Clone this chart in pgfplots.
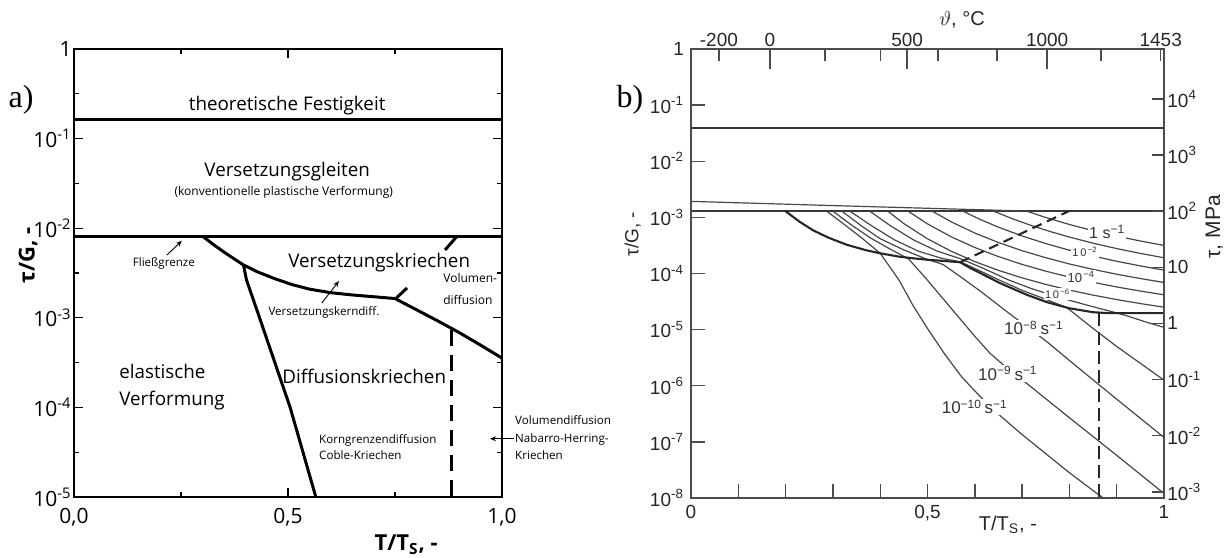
\documentclass[border=0pt]{standalone}
\usepackage{fontspec}
\setmainfont{Open Sans}
\newfontfamily\hv{Liberation Sans}
\newfontfamily\sr{Liberation Serif}
\usepackage{pgfplots}
\pgfplotsset{compat=1.18}
\usetikzlibrary{arrows.meta}
\newcommand{\fs}[1]{\fontsize{#1}{#1}\selectfont}
\tikzset{
  thk/.style={line width=1.5pt, black},
  bl/.style={line width=0.6pt, black!72},
  bthk/.style={line width=1.05pt, black!85},
  bh/.style={line width=0.95pt, black!78},
  lbl/.style={fill=white, inner sep=0.6pt, text=black!80},
}
\begin{document}
\begin{tikzpicture}
\path[use as bounding box] (0,0) rectangle (613pt,278.5pt);
\node[font=\sr\fs{16}] at (10.5pt,228.5pt) {a)};
\node[font=\sr\fs{16}] at (315pt,228.5pt) {b)};
% ---------------- panel a ----------------
\begin{axis}[
  at={(37pt,30pt)}, anchor=south west,
  scale only axis, width=214pt, height=224pt,
  xmin=0, xmax=1, ymin=-5, ymax=0,
  axis line style={line width=0.75pt},
  xtick={0,0.5,1}, xticklabels={{0,0},{0,5},{1,0}},
  minor xtick={0.25,0.75},
  ytick={-5,-4,-3,-2,-1,0},
  yticklabels={10\textsuperscript{-5},10\textsuperscript{-4},10\textsuperscript{-3},10\textsuperscript{-2},10\textsuperscript{-1},1},
  minor ytick={-4.5,-3.5,-2.5,-1.5,-0.5},
  tick align=inside,
  major tick length=4.5pt, minor tick length=2.5pt,
  tick style={black, line width=0.6pt},
  ticklabel style={font=\fs{10.5}},
  yticklabel style={inner sep=1pt},
  xticklabel style={yshift=-2pt},
  xlabel={T/T\textsubscript{S}, -},
  xlabel style={at={(axis description cs:0.776,-0.107)}, anchor=center, font=\bfseries\fs{11}},
  ylabel={τ/G, -},
  ylabel style={at={(axis description cs:-0.1075,0.54)}, anchor=center, font=\bfseries\fs{11}},
  clip=false,
]
\addplot[thk] coordinates {(0,-0.79) (1,-0.79)};
\addplot[thk] coordinates {(0,-2.095) (1,-2.095)};
\addplot[thk] coordinates {(0.302,-2.095) (0.325,-2.18) (0.35,-2.265) (0.375,-2.345) (0.396,-2.41) (0.43,-2.49) (0.47,-2.565) (0.51,-2.63) (0.55,-2.68) (0.60,-2.72) (0.65,-2.745) (0.70,-2.765) (0.75,-2.785) (0.80,-2.91) (0.85,-3.035) (0.90,-3.165) (0.95,-3.305) (1.0,-3.45)};
\addplot[thk] coordinates {(0.396,-2.41) (0.403,-2.578) (0.43,-2.95) (0.46,-3.37) (0.49,-3.79) (0.505,-4.0) (0.535,-4.5) (0.565,-5.0)};
\addplot[thk, dash pattern=on 8pt off 4.5pt] coordinates {(0.883,-3.14) (0.883,-5)};
\addplot[thk] coordinates {(0.752,-2.785) (0.778,-2.667)};
\addplot[thk] coordinates {(0.867,-2.243) (0.893,-2.10)};
\node[font=\fs{9.4}] at (axis cs:0.498,-0.636) {theoretische Festigkeit};
\node[font=\fs{9.4}] at (axis cs:0.498,-1.373) {Versetzungsgleiten};
\node[font=\fs{6}] at (axis cs:0.49,-1.596) {(konventionelle plastische Verformung)};
\node[font=\fs{5.8}] at (axis cs:0.21,-2.388) {Fließgrenze};
\node[font=\fs{9.4}] at (axis cs:0.713,-2.388) {Versetzungskriechen};
\node[font=\fontsize{6}{11}\selectfont, align=left, anchor=west, inner sep=0pt] at (axis cs:0.862,-2.68) {Volumen-\\diffusion};
\node[font=\fs{5.8}] at (axis cs:0.584,-2.935) {Versetzungskerndiff.};
\node[font=\fontsize{9.4}{13.5}\selectfont, align=left, anchor=west, inner sep=0pt] at (axis cs:0.105,-3.77) {elastische\\Verformung};
\node[font=\fs{9.4}] at (axis cs:0.678,-3.65) {Diffusionskriechen};
\node[font=\fontsize{5.8}{8}\selectfont, align=left, anchor=west, inner sep=0pt] at (axis cs:0.572,-4.44) {Korngrenzendiffusion\\Coble-Kriechen};
\node[font=\fontsize{5.8}{8.75}\selectfont, align=left, anchor=west, inner sep=0pt] at (axis cs:1.03,-4.34) {Volumendiffusion\\Nabarro-Herring-\\Kriechen};
\draw[-{Stealth[length=3pt,width=2.5pt]}, line width=0.45pt] (axis cs:0.217,-2.30) -- (axis cs:0.252,-2.14);
\draw[-{Stealth[length=3pt,width=2.5pt]}, line width=0.45pt] (axis cs:0.579,-2.835) -- (axis cs:0.619,-2.59);
\draw[-{Stealth[length=3pt,width=2.5pt]}, line width=0.45pt] (axis cs:1.027,-4.35) -- (axis cs:0.972,-4.35);
\end{axis}
% ---------------- panel b : main ----------------
\begin{axis}[
  at={(345.5pt,29.5pt)}, anchor=south west,
  scale only axis, width=236.5pt, height=224.5pt,
  xmin=0, xmax=1, ymin=-8, ymax=0,
  axis line style={draw=black!70, line width=0.7pt},
  xtick={0,0.1,0.2,0.3,0.4,0.5,0.6,0.7,0.8,0.9,1},
  xticklabels={0,,,,,{0,5},,,,,1},
  ytick={-8,-7,-6,-5,-4,-3,-2,-1,0},
  yticklabels={10\textsuperscript{-8},10\textsuperscript{-7},10\textsuperscript{-6},10\textsuperscript{-5},10\textsuperscript{-4},10\textsuperscript{-3},10\textsuperscript{-2},10\textsuperscript{-1},1},
  xtick pos=left, ytick pos=left,
  tick align=inside, major tick length=7pt,
  tick style={black!70, line width=0.7pt},
  ticklabel style={font=\hv\fs{9.5}, text=black!85},
  xlabel={T/T\textsubscript{S}, -},
  xlabel style={at={(axis description cs:0.670,-0.060)}, anchor=center, font=\hv\fs{10}, text=black!85},
  ylabel={τ/G, -},
  ylabel style={at={(axis description cs:-0.123,0.588)}, anchor=center, font=\hv\fs{9.5}, text=black!85},
]
\addplot[bh] coordinates {(0,-1.40) (1,-1.40)};
\addplot[bh] coordinates {(0,-2.885) (1,-2.885)};
\addplot[bl] coordinates {(0,-2.715) (0.3,-2.79) (0.55,-2.85) (0.70,-2.885)};
% power-law contours
\addplot[bl] coordinates {(0.71,-2.89) (0.75,-3.002) (0.80,-3.127) (0.85,-3.237) (0.90,-3.334) (0.95,-3.421) (1.0,-3.50)};
\addplot[bl] coordinates {(0.64,-2.89) (0.68,-3.026) (0.72,-3.146) (0.76,-3.254) (0.80,-3.351) (0.85,-3.460) (0.90,-3.556) (0.95,-3.642) (1.0,-3.720)};
\addplot[bl] coordinates {(0.575,-2.89) (0.61,-3.032) (0.65,-3.175) (0.70,-3.331) (0.75,-3.467) (0.80,-3.585) (0.85,-3.689) (0.90,-3.782) (0.95,-3.865) (1.0,-3.94)};
\addplot[bl] coordinates {(0.51,-2.89) (0.55,-3.079) (0.60,-3.279) (0.65,-3.448) (0.70,-3.594) (0.75,-3.719) (0.80,-3.830) (0.85,-3.927) (0.90,-4.013) (0.95,-4.090) (1.0,-4.16)};
\addplot[bl] coordinates {(0.459,-2.89) (0.50,-3.116) (0.55,-3.346) (0.60,-3.537) (0.65,-3.699) (0.70,-3.838) (0.75,-3.959) (0.80,-4.064) (0.85,-4.157) (0.90,-4.240) (0.95,-4.313) (1.0,-4.38)};
\addplot[bl] coordinates {(0.416,-2.89) (0.45,-3.111) (0.50,-3.382) (0.55,-3.603) (0.60,-3.788) (0.65,-3.944) (0.70,-4.078) (0.75,-4.194) (0.80,-4.296) (0.85,-4.385) (0.90,-4.465) (0.95,-4.536) (1.0,-4.60)};
\addplot[bl] coordinates {(0.378,-2.89) (0.42,-3.14) (0.47,-3.40) (0.52,-3.60) (0.569,-3.735) (0.62,-3.915) (0.67,-4.11) (0.72,-4.27) (0.78,-4.43) (0.84,-4.57) (0.89,-4.68) (0.92,-4.75) (0.96,-4.86) (1.0,-4.96)};
\addplot[bl] coordinates {(0.336,-2.89) (0.38,-3.14) (0.43,-3.40) (0.48,-3.60) (0.53,-3.73) (0.569,-3.79) (0.61,-3.95) (0.65,-4.11) (0.70,-4.30) (0.75,-4.46) (0.795,-4.61) (0.85,-4.98) (0.90,-5.30) (0.95,-5.60) (1.0,-5.90)};
\addplot[bl] coordinates {(0.319,-2.89) (0.36,-3.15) (0.40,-3.38) (0.45,-3.58) (0.50,-3.75) (0.533,-3.84) (0.57,-4.06) (0.611,-4.31) (0.674,-4.72) (0.72,-5.01) (0.753,-5.22) (0.80,-5.55) (0.90,-6.24) (1.0,-6.92)};
\addplot[bl] coordinates {(0.300,-2.89) (0.34,-3.14) (0.38,-3.37) (0.42,-3.56) (0.46,-3.74) (0.50,-4.12) (0.55,-4.62) (0.60,-5.12) (0.632,-5.42) (0.67,-5.70) (0.71,-5.96) (0.80,-6.57) (0.90,-7.24) (1.0,-7.92)};
\addplot[bl] coordinates {(0.287,-2.89) (0.32,-3.10) (0.36,-3.36) (0.40,-3.64) (0.44,-4.12) (0.47,-4.58) (0.50,-4.98) (0.535,-5.42) (0.573,-5.85) (0.61,-6.18) (0.649,-6.50) (0.70,-6.87) (0.75,-7.21) (0.80,-7.55) (0.86,-7.93) (0.872,-8.0)};
% boundaries
\addplot[bthk] coordinates {(0.199,-2.885) (0.23,-3.08) (0.258,-3.23) (0.29,-3.36) (0.33,-3.49) (0.37,-3.585) (0.40,-3.64) (0.44,-3.70) (0.47,-3.73) (0.50,-3.755) (0.54,-3.78) (0.569,-3.80) (0.59,-3.90) (0.611,-3.99) (0.653,-4.17) (0.71,-4.38) (0.752,-4.51) (0.80,-4.62) (0.85,-4.69) (0.88,-4.705) (1.0,-4.705)};
\addplot[bthk, dash pattern=on 5pt off 3pt] coordinates {(0.569,-3.80) (0.80,-2.885)};
\addplot[bthk, dash pattern=on 6.5pt off 3pt] coordinates {(0.863,-4.705) (0.863,-8)};
% labels
\node[lbl, font=\hv\fs{8}] at (axis cs:0.88,-3.26) {1 s\textsuperscript{−1}};
\node[lbl, font=\hv\fs{5.5}] at (axis cs:0.833,-3.62) {1\,0\textsuperscript{\,−2}};
\node[lbl, font=\hv\fs{6.5}] at (axis cs:0.825,-4.06) {10\textsuperscript{\,−4}};
\node[lbl, font=\hv\fs{5.5}] at (axis cs:0.775,-4.37) {1\,0\textsuperscript{\,−6}};
\node[lbl, font=\hv\fs{8.5}] at (axis cs:0.725,-4.97) {10\textsuperscript{−8}\,s\textsuperscript{−1}};
\node[lbl, font=\hv\fs{8.5}] at (axis cs:0.67,-5.78) {10\textsuperscript{−9}\,s\textsuperscript{−1}};
\node[lbl, font=\hv\fs{8.5}] at (axis cs:0.60,-6.38) {10\textsuperscript{−10}\,s\textsuperscript{−1}};
\end{axis}
% ---------------- panel b : top axis (°C) ----------------
\begin{axis}[
  at={(345.5pt,29.5pt)}, anchor=south west,
  scale only axis, width=236.5pt, height=224.5pt,
  xmin=0, xmax=1, ymin=0, ymax=1,
  axis line style={draw=black!70, line width=0.7pt},
  xtick={0.167,0.457,0.753}, xticklabels={0,500,1000},
  extra x ticks={0.059,0.283,0.400,0.522,0.647,0.867,0.993},
  extra x tick labels={-200,,,,,,1453},
  extra x tick style={major tick length=6pt},
  ytick=\empty,
  xtick pos=right, xticklabel pos=right,
  tick align=inside, major tick length=10pt,
  tick style={black!70, line width=0.7pt},
  ticklabel style={font=\hv\fs{9.5}, text=black!85},
  xticklabel style={inner sep=1pt},
  xlabel={$\vartheta$, °C},
  xlabel style={at={(axis description cs:0.573,1.065)}, anchor=center, font=\hv\fs{10}, text=black!85},
]
\end{axis}
% ---------------- panel b : right axis (MPa) ----------------
\begin{axis}[
  at={(345.5pt,29.5pt)}, anchor=south west,
  scale only axis, width=236.5pt, height=224.5pt,
  xmin=0, xmax=1, ymin=-3.11, ymax=4.89,
  axis line style={draw=black!70, line width=0.7pt},
  xtick=\empty,
  ytick={-3,-2,-1,0,1,2,3,4},
  yticklabels={10\textsuperscript{-3},10\textsuperscript{-2},10\textsuperscript{-1},1,10,10\textsuperscript{2},10\textsuperscript{3},10\textsuperscript{4}},
  ytick pos=right, yticklabel pos=right,
  tick align=inside, major tick length=6pt,
  tick style={black!70, line width=0.7pt},
  ticklabel style={font=\hv\fs{9.5}, text=black!85},
  yticklabel style={inner sep=1.5pt},
  ylabel={τ, MPa},
  ylabel style={at={(axis description cs:1.106,0.604)}, anchor=center, font=\hv\fs{10.5}, text=black!85},
]
\end{axis}
\end{tikzpicture}
\end{document}
